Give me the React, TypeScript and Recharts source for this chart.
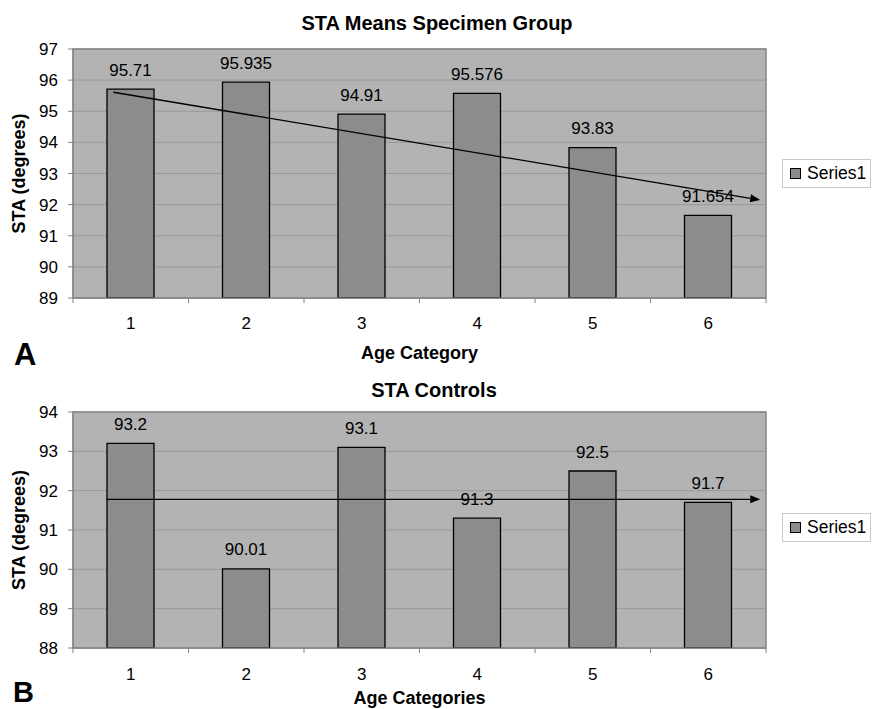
import {
  BarChart,
  Bar,
  XAxis,
  YAxis,
  CartesianGrid,
  LabelList,
  Label,
  Legend,
  ReferenceLine,
  ReferenceArea,
} from "recharts";

const CATEGORIES = ["1", "2", "3", "4", "5", "6"];
const SPECIMEN_VALUES = [95.71, 95.935, 94.91, 95.576, 93.83, 91.654];
const CONTROL_VALUES = [93.2, 90.01, 93.1, 91.3, 92.5, 91.7];
const SPECIMEN_TICKS = [89, 90, 91, 92, 93, 94, 95, 96, 97];
const CONTROL_TICKS = [88, 89, 90, 91, 92, 93, 94];
// hand-drawn arrows, in (category position, degrees)
const SPECIMEN_ARROW = [
  { x: 0.85, y: 95.61 },
  { x: 6.45, y: 92.15 },
];
const CONTROL_ARROW = [
  { x: 0.79, y: 91.78 },
  { x: 6.45, y: 91.78 },
];

const FONT = '"Liberation Sans", Arial, sans-serif';
const BAR = "#8c8c8c";
const PLOT_BG = "#b3b3b3";
const GRID = "#999999";
const AXIS = "#858585";

function CategoryTick(props: any) {
  const { x, y, payload, index, width, visibleTicksCount, labelDy } = props;
  const band = width && visibleTicksCount ? width / visibleTicksCount : 115.5;
  return (
    <g>
      {index === 0 && (
        <line x1={x - band / 2} x2={x - band / 2} y1={y} y2={y + 5} stroke={AXIS} />
      )}
      <line x1={x + band / 2} x2={x + band / 2} y1={y} y2={y + 5} stroke={AXIS} />
      <text x={x} y={y + labelDy} textAnchor="middle" fontSize={17} fill="#000">
        {payload.value}
      </text>
    </g>
  );
}

function Arrow(props: any) {
  const { x1, y1, x2, y2 } = props;
  const a = Math.atan2(y2 - y1, x2 - x1);
  const len = 10;
  const half = 4;
  const bx = x2 - len * Math.cos(a);
  const by = y2 - len * Math.sin(a);
  const pts = [
    [x2, y2],
    [bx + half * Math.sin(a), by - half * Math.cos(a)],
    [bx - half * Math.sin(a), by + half * Math.cos(a)],
  ]
    .map((p) => p.join(","))
    .join(" ");
  return (
    <g>
      <line x1={x1} y1={y1} x2={bx} y2={by} stroke="#000" strokeWidth={1.3} />
      <polygon points={pts} fill="#000" />
    </g>
  );
}

function SeriesKey({ payload }: { payload?: any[] }) {
  const name = payload && payload[0] ? payload[0].value : "";
  return (
    <div
      style={{
        width: 89,
        height: 29,
        boxSizing: "border-box",
        border: "1px solid #c8c8c8",
        background: "#fff",
        display: "flex",
        alignItems: "center",
        paddingLeft: 7,
        fontSize: 17.5,
        fontFamily: FONT,
        color: "#000",
      }}
    >
      <span
        style={{
          width: 11,
          height: 11,
          boxSizing: "border-box",
          background: BAR,
          border: "1px solid #000",
          marginRight: 6,
        }}
      />
      {name}
    </div>
  );
}

type PanelProps = {
  values: number[];
  ticks: number[];
  arrow: { x: number; y: number }[];
  xLabel: string;
  top: number;
  height: number;
  marginTop: number;
  xAxisHeight: number;
  xLabelOffset: number;
  tickDy: number;
  legendTop: number;
};

function Panel(p: PanelProps) {
  // pos = 1-based category position, used only by the hidden numeric axis for the arrow
  const data = CATEGORIES.map((cat, i) => ({ cat, pos: i + 1, value: p.values[i] }));
  const lo = p.ticks[0];
  const hi = p.ticks[p.ticks.length - 1];
  return (
    <div style={{ position: "absolute", left: 0, top: p.top }}>
      <BarChart
        width={872}
        height={p.height}
        data={data}
        margin={{ top: p.marginTop, right: 106, bottom: 0, left: 0 }}
      >
        <CartesianGrid vertical={false} stroke={GRID} fill={PLOT_BG} fillOpacity={1} />
        <XAxis
          dataKey="cat"
          height={p.xAxisHeight}
          interval={0}
          tickLine={false}
          tickSize={0}
          tickMargin={0}
          axisLine={{ stroke: AXIS }}
          tick={<CategoryTick labelDy={p.tickDy} />}
        >
          <Label
            value={p.xLabel}
            position="insideBottom"
            offset={p.xLabelOffset}
            fontSize={18}
            fontWeight="bold"
            fill="#000"
          />
        </XAxis>
        <XAxis
          xAxisId="n"
          dataKey="pos"
          type="number"
          domain={[0.5, 6.5]}
          allowDataOverflow
          hide
        />
        <YAxis
          width={73}
          domain={[lo, hi]}
          ticks={p.ticks}
          interval={0}
          allowDataOverflow
          tickSize={5}
          tickMargin={10}
          tickLine={{ stroke: AXIS }}
          axisLine={{ stroke: AXIS }}
          tick={{ fontSize: 17, fill: "#000" }}
        >
          <Label
            value="STA (degrees)"
            angle={-90}
            position="insideLeft"
            offset={19}
            fontSize={18}
            fontWeight="bold"
            fill="#000"
            style={{ textAnchor: "middle" }}
          />
        </YAxis>
        <ReferenceArea
          xAxisId="n"
          x1={0.5}
          x2={6.5}
          y1={lo}
          y2={hi}
          fill="none"
          stroke={AXIS}
          strokeWidth={1.5}
          ifOverflow="visible"
        />
        <Bar
          dataKey="value"
          name="Series1"
          fill={BAR}
          stroke="#000"
          strokeWidth={1.3}
          barSize={47}
          isAnimationActive={false}
        >
          <LabelList dataKey="value" position="top" offset={13.5} fontSize={17} fill="#000" />
        </Bar>
        <ReferenceLine
          xAxisId="n"
          segment={p.arrow}
          shape={<Arrow />}
          ifOverflow="visible"
        />
        <Legend
          layout="vertical"
          align="center"
          verticalAlign="middle"
          wrapperStyle={{ left: 782, top: p.legendTop, width: 89 }}
          content={(lp: any) => <SeriesKey payload={lp.payload} />}
        />
      </BarChart>
    </div>
  );
}

export default function App() {
  return (
    <div
      style={{
        position: "absolute",
        left: 0,
        top: 0,
        width: 872,
        height: 709,
        overflow: "hidden",
        background: "#fff",
        fontFamily: FONT,
      }}
    >
      <Panel
        values={SPECIMEN_VALUES}
        ticks={SPECIMEN_TICKS}
        arrow={SPECIMEN_ARROW}
        xLabel="Age Category"
        top={0}
        height={368}
        marginTop={49}
        xAxisHeight={70}
        xLabelOffset={9}
        tickDy={31}
        legendTop={159}
      />
      <Panel
        values={CONTROL_VALUES}
        ticks={CONTROL_TICKS}
        arrow={CONTROL_ARROW}
        xLabel="Age Categories"
        top={368}
        height={341}
        marginTop={44}
        xAxisHeight={61}
        xLabelOffset={5}
        tickDy={32}
        legendTop={145}
      />
      <svg
        width={872}
        height={709}
        style={{ position: "absolute", left: 0, top: 0, pointerEvents: "none" }}
      >
        <g fontFamily={FONT} fontWeight="bold" fill="#000">
          <text x={437} y={30} fontSize={20} textAnchor="middle">
            STA Means Specimen Group
          </text>
          <text x={434} y={397} fontSize={20} textAnchor="middle">
            STA Controls
          </text>
          <text x={14} y={365} fontSize={31}>
            A
          </text>
          <text x={13} y={702} fontSize={29}>
            B
          </text>
        </g>
      </svg>
    </div>
  );
}
